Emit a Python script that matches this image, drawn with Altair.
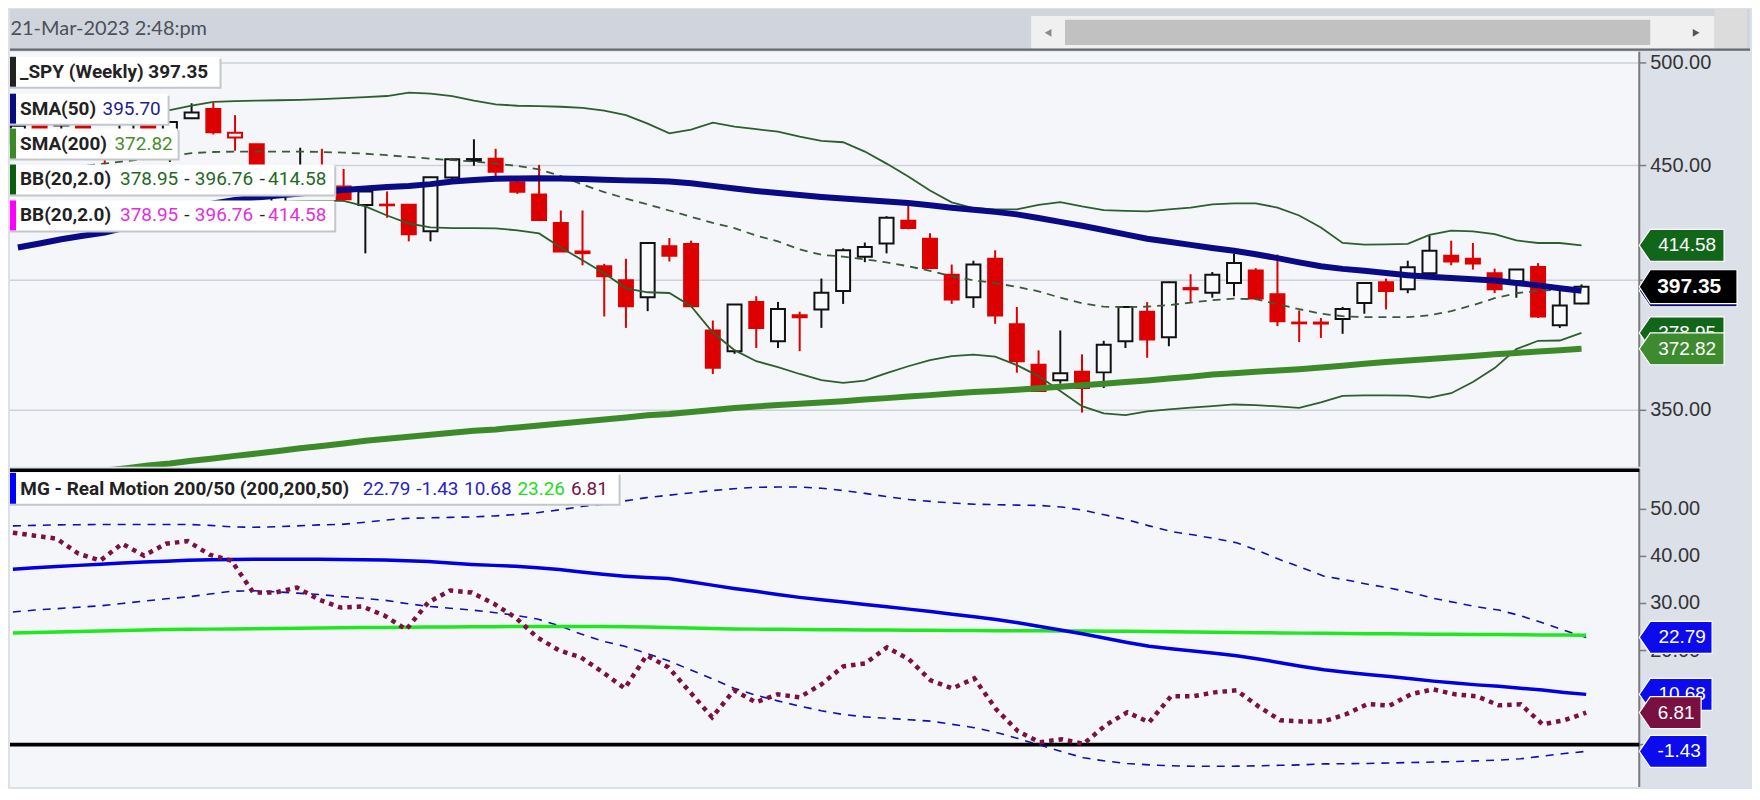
import altair as alt
import pandas as pd

# ---------------- data ----------------
week_dates = pd.date_range("2021-11-03", periods=73, freq="7D").strftime("%Y-%m-%d").tolist()

spy_open = [460.3, 469.7, 469.3, 470.9, 464.1, 456.1, 470.2, 454.5, 472.4, 476.9,
            463.2, 460.0, 432.0, 441.2, 449.5, 440.4, 432.1, 432.0, 432.2, 420.6,
            444.5, 452.2, 453.1, 442.4, 436.8, 424.2, 412.0, 405.8, 400.0, 393.1,
            414.2, 415.2, 379.9, 371.9, 391.2, 375.7, 385.9, 388.2, 395.6, 409.8,
            415.4, 425.2, 417.4, 402.3, 393.1, 408.9, 382.3, 366.8, 361.0, 364.1,
            363.9, 375.7, 387.3, 377.3, 396.8, 394.9, 398.9, 404.0, 394.3, 383.0,
            383.0, 384.4, 390.8, 399.2, 396.3, 402.9, 410.2, 408.9, 402.9, 399.6,
            405.5, 381.9, 390.6]
spy_high = [470.6, 470.2, 470.9, 473.5, 466.6, 470.9, 472.9, 470.9, 479.7, 480.0,
            473.9, 460.0, 444.0, 458.3, 457.8, 448.4, 438.3, 438.2, 432.4, 444.8,
            453.0, 462.3, 457.8, 445.0, 450.3, 429.7, 429.7, 406.8, 408.9, 415.6,
            417.7, 416.6, 383.8, 390.2, 393.5, 391.2, 387.3, 400.7, 413.3, 415.8,
            427.2, 431.9, 419.8, 406.5, 408.1, 412.5, 389.2, 372.2, 379.9, 370.7,
            375.9, 389.5, 391.1, 399.4, 402.5, 403.4, 411.0, 405.0, 410.7, 387.8,
            384.8, 389.2, 399.2, 400.7, 408.1, 418.8, 416.6, 415.6, 404.8, 404.6,
            407.1, 395.9, 398.3]
spy_low = [458.2, 462.0, 465.0, 457.8, 448.9, 453.6, 458.1, 451.7, 472.0, 464.6,
           456.9, 437.9, 420.8, 439.8, 439.9, 433.7, 411.2, 426.5, 416.3, 416.3,
           443.5, 449.9, 445.0, 437.1, 425.5, 412.0, 406.2, 385.4, 380.9, 387.5,
           407.8, 389.5, 363.3, 370.9, 373.1, 373.1, 371.9, 380.9, 390.4, 407.5,
           411.2, 421.5, 405.1, 390.4, 388.8, 382.5, 363.8, 357.0, 359.7, 349.2,
           358.1, 373.1, 369.4, 373.8, 391.2, 392.9, 393.5, 392.6, 381.6, 375.4,
           377.0, 378.6, 386.5, 388.2, 394.7, 402.5, 406.2, 404.4, 394.8, 392.9,
           384.8, 380.9, 390.3]
spy_close = [468.8, 467.3, 468.9, 459.0, 453.4, 470.7, 459.9, 470.6, 475.2, 465.6,
             465.4, 438.0, 442.0, 448.7, 440.5, 434.7, 438.2, 432.3, 419.4, 444.6,
             452.9, 453.0, 447.1, 438.0, 425.5, 412.0, 411.3, 401.6, 389.5, 415.6,
             410.2, 389.5, 365.6, 390.2, 380.9, 388.4, 385.1, 394.9, 412.5, 413.9,
             426.5, 422.1, 405.1, 392.2, 406.5, 385.8, 368.1, 357.0, 363.6, 358.1,
             374.4, 389.2, 376.4, 399.2, 396.3, 402.3, 407.1, 392.6, 383.5, 382.7,
             382.6, 388.4, 398.9, 395.6, 405.4, 412.3, 407.8, 406.9, 396.3, 404.4,
             385.4, 389.8, 397.35]
sma50 = [413.7, 415.4, 417.2, 418.7, 420.1, 422.3, 425.3, 428.0, 430.4, 432.8,
         434.4, 435.5, 436.4, 437.3, 438.2, 438.8, 439.5, 440.2, 440.6, 441.5,
         442.7, 443.4, 443.9, 444.1, 444.2, 444.0, 443.8, 443.5, 443.2, 443.0,
         442.7, 441.9, 440.7, 439.5, 438.4, 437.5, 436.6, 435.7, 435.0, 434.4,
         433.7, 433.0, 432.0, 430.9, 430.0, 429.1, 428.0, 426.4, 424.7, 423.0,
         421.2, 419.3, 417.4, 416.1, 414.8, 413.5, 412.3, 410.8, 409.2, 407.4,
         405.8, 404.7, 403.9, 403.0, 402.1, 401.4, 400.9, 400.4, 399.9, 398.9,
         397.9, 396.7, 395.7]
sma200 = [325.5, 326.4, 327.2, 328.1, 329.0, 329.8, 330.7, 331.4, 332.3, 333.1,
          334.0, 334.8, 335.7, 336.6, 337.4, 338.3, 339.2, 339.9, 340.6, 341.3,
          342.0, 342.7, 343.2, 343.9, 344.6, 345.3, 346.0, 346.7, 347.4, 348.2,
          348.7, 349.4, 350.1, 350.8, 351.4, 351.9, 352.4, 352.8, 353.3, 353.9,
          354.4, 355.0, 355.5, 356.1, 356.6, 357.0, 357.5, 358.0, 358.6, 359.1,
          359.7, 360.3, 360.9, 361.6, 362.3, 363.1, 363.6, 364.1, 364.6, 365.1,
          365.7, 366.4, 367.1, 367.8, 368.4, 368.9, 369.5, 370.1, 370.7, 371.2,
          371.8, 372.3, 372.82]
bb_upper = [469.6, 470.9, 471.6, 472.1, 472.8, 473.7, 474.9, 476.3, 478.6, 480.4,
            480.8, 481.0, 481.2, 481.4, 481.8, 482.3, 482.8, 483.3, 485.0, 484.5,
            483.3, 481.0, 479.2, 478.5, 478.3, 478.0, 477.5, 476.1, 473.9, 469.8,
            465.1, 466.9, 470.3, 468.3, 467.1, 466.0, 463.6, 461.5, 460.9, 456.5,
            450.9, 445.0, 438.6, 433.3, 430.8, 430.2, 430.2, 432.2, 433.4, 431.5,
            429.9, 429.5, 429.3, 430.2, 431.0, 432.4, 432.9, 432.9, 431.0, 427.5,
            422.3, 415.6, 414.9, 415.0, 415.2, 419.1, 420.9, 420.6, 419.4, 416.7,
            415.6, 415.6, 414.58]
bb_middle = [446.3, 447.7, 448.8, 449.8, 450.9, 452.1, 453.2, 454.4, 455.8, 456.3,
             456.5, 456.5, 456.5, 456.5, 456.3, 456.0, 455.5, 454.8, 454.0, 453.2,
             452.5, 451.85, 450.9, 449.8, 448.2, 445.2, 441.3, 437.9, 435.0, 432.4,
             429.7, 426.9, 424.3, 422.0, 418.8, 416.3, 412.9, 410.6, 409.8, 408.7,
             407.4, 405.8, 403.9, 401.6, 400.0, 398.8, 397.3, 395.5, 392.9, 390.7,
             389.3, 389.1, 389.3, 389.9, 390.9, 391.9, 392.5, 392.3, 390.3, 388.3,
             386.5, 385.5, 385.1, 385.1, 385.1, 385.9, 387.5, 389.9, 392.7, 394.7,
             395.7, 396.1, 396.76]
bb_lower = [423.0, 424.5, 426.0, 427.5, 429.0, 430.5, 431.5, 432.5, 433.0, 433.0,
            433.0, 433.2, 433.5, 433.8, 434.0, 434.0, 431.5, 427.5, 424.0, 422.3,
            422.0, 422.0, 421.9, 421.0, 419.7, 413.7, 408.3, 402.9, 396.7, 395.1,
            394.8, 389.5, 379.1, 372.3, 368.1, 365.9, 363.3, 361.0, 360.0, 360.8,
            363.6, 366.2, 368.5, 370.0, 370.6, 369.8, 366.6, 362.5, 357.0, 351.5,
            348.9, 348.3, 349.6, 350.3, 351.0, 351.5, 352.1, 351.9, 351.4, 350.9,
            352.9, 355.2, 355.4, 355.4, 355.3, 354.6, 356.2, 360.3, 365.5, 372.7,
            375.9, 376.0, 378.95]
rm_upper = [46.5, 46.6, 46.7, 46.75, 46.8, 46.8, 46.8, 46.8, 46.8, 46.6,
            46.3, 46.2, 46.3, 46.5, 46.7, 46.8, 47.2, 47.7, 48.1, 48.2,
            48.3, 48.4, 48.6, 48.9, 49.3, 49.9, 50.6, 51.1, 51.8, 52.5,
            53.0, 53.5, 54.0, 54.4, 54.7, 54.75, 54.75, 54.5, 54.0, 53.4,
            52.7, 52.1, 51.7, 51.35, 51.1, 51.0, 50.9, 50.85, 50.5, 49.8,
            48.8, 47.8, 46.5, 45.3, 44.6, 43.8, 42.9, 41.2, 39.3, 37.6,
            35.8, 35.0, 34.1, 33.3, 32.3, 31.1, 30.2, 29.3, 28.6, 27.4,
            25.9, 24.3, 22.79]
rm_lower = [28.2, 28.6, 28.9, 29.2, 29.5, 30.0, 30.5, 31.0, 31.4, 32.0,
            32.6, 32.7, 32.5, 32.2, 31.9, 31.5, 31.1, 30.7, 30.0, 29.4,
            29.0, 28.6, 28.1, 27.5, 26.7, 25.3, 23.5, 22.0, 20.9, 19.4,
            17.84, 15.9, 14.0, 12.0, 10.5, 9.3, 8.2, 7.2, 6.4, 5.9,
            5.6, 5.3, 5.0, 4.3, 3.6, 2.6, 1.3, -0.1, -1.5, -2.8,
            -3.5, -4.0, -4.3, -4.5, -4.6, -4.6, -4.58, -4.5, -4.4, -4.3,
            -4.1, -4.05, -4.0, -3.9, -3.8, -3.7, -3.6, -3.45, -3.3, -3.0,
            -2.45, -1.9, -1.43]
rm_fast = [37.3, 37.6, 37.85, 38.1, 38.35, 38.6, 38.8, 39.0, 39.2, 39.3,
           39.35, 39.4, 39.4, 39.4, 39.4, 39.35, 39.3, 39.25, 39.1, 38.9,
           38.6, 38.3, 38.1, 37.9, 37.6, 37.2, 36.7, 36.2, 35.8, 35.5,
           35.3, 34.6, 33.9, 33.2, 32.6, 31.9, 31.3, 30.8, 30.3, 29.8,
           29.3, 28.8, 28.3, 27.7, 27.2, 26.6, 25.9, 25.1, 24.3, 23.5,
           22.6, 21.7, 20.9, 20.4, 19.9, 19.4, 18.9, 18.2, 17.4, 16.6,
           15.9, 15.4, 14.9, 14.5, 14.0, 13.5, 13.1, 12.7, 12.4, 12.0,
           11.6, 11.1, 10.68]
rm_slow = [23.75, 23.85, 23.95, 24.05, 24.15, 24.25, 24.35, 24.45, 24.5, 24.55,
           24.6, 24.65, 24.7, 24.75, 24.8, 24.85, 24.9, 24.9, 24.95, 25.0,
           25.0, 25.05, 25.05, 25.1, 25.1, 25.1, 25.1, 25.1, 25.05, 25.0,
           24.9, 24.8, 24.7, 24.6, 24.55, 24.5, 24.45, 24.4, 24.4, 24.35,
           24.35, 24.3, 24.3, 24.25, 24.25, 24.2, 24.2, 24.2, 24.15, 24.15,
           24.1, 24.1, 24.05, 24.0, 23.95, 23.9, 23.85, 23.8, 23.75, 23.7,
           23.65, 23.6, 23.55, 23.55, 23.5, 23.45, 23.45, 23.4, 23.4, 23.35,
           23.3, 23.3, 23.26]
rm_motion = [45.05, 44.41, 43.78, 40.59, 39.11, 42.71, 40.17, 42.71, 43.25, 40.38,
             39.11, 32.32, 32.32, 33.38, 30.84, 29.14, 29.35, 27.44, 24.47, 30.2,
             32.75, 32.32, 29.99, 27.02, 22.78, 20.02, 18.54, 15.36, 11.96, 18.96,
             16.42, 11.11, 5.81, 11.54, 8.99, 10.69, 10.05, 12.81, 16.63, 17.26,
             20.66, 18.18, 13.66, 11.96, 14.08, 7.51, 2.84, 0.51, 1.15, 0.15,
             4.11, 6.87, 4.75, 10.27, 10.27, 11.11, 11.54, 8.14, 5.17, 4.9,
             4.96, 6.45, 8.63, 8.29, 10.75, 11.75, 10.69, 10.27, 8.36, 8.57,
             4.33, 5.17, 6.81]

# axis ticks; labels that the value tags hide in the reference are not written
price_ticks = [350, 400, 450, 500]
price_labels = [350, 450, 500]
rm_ticks = [0, 10, 20, 30, 40, 50]
rm_labels = [20, 30, 40, 50]

# candle style: hollow when close >= open, red when close < previous close
prev_close = [None] + spy_close[:-1]
kind = []
for o, c, p in zip(spy_open, spy_close, prev_close):
    ref = o if p is None else p
    if c >= o:
        kind.append("up" if c >= ref else "up_lower")
    else:
        kind.append("down_higher" if c >= ref else "down")

df = pd.DataFrame(dict(date=week_dates, open=spy_open, high=spy_high, low=spy_low,
                       close=spy_close, kind=kind, sma50=sma50, sma200=sma200,
                       bbu=bb_upper, bbm=bb_middle, bbl=bb_lower, rmu=rm_upper,
                       rml=rm_lower, rmf=rm_fast, rms=rm_slow, rmm=rm_motion))

# ---------------- layout ----------------
PW, TOP_H, BOT_H, HEAD_W, HEAD_H = 1633, 416, 319, 1744, 42
AXIS_FONT = "Liberation Sans"
GRID = "#cdd1d8"
AXIS_GRAY = "#7a7a7a"


def dt(y, m, d, h=0, mi=0):
    return alt.DateTime(year=y, month=m, date=d, hours=h, minutes=mi, utc=True)


x_scale = alt.Scale(type="utc", domain=[dt(2021, 11, 2, 1, 40), dt(2023, 4, 8, 0, 15)])
quarters = [dt(2022, 1, 1), dt(2022, 4, 1), dt(2022, 7, 1), dt(2022, 10, 1),
            dt(2023, 1, 1), dt(2023, 4, 1)]
price_scale = alt.Scale(type="log", domain=[330.26, 505.75], nice=False)
rm_scale = alt.Scale(domain=[-9.03, 58.62], nice=False, zero=False)

x_plain = alt.X("date:T", scale=x_scale, axis=None)
x_top = alt.X("date:T", scale=x_scale,
              axis=alt.Axis(values=quarters, grid=True, gridColor=GRID, gridWidth=1.5,
                            labels=False, ticks=False, domain=False, title=None))
x_bot = alt.X("date:T", scale=x_scale,
              axis=alt.Axis(values=quarters, grid=True, gridColor=GRID, gridWidth=1.5,
                            labels=False, ticks=True, tickSize=8, tickWidth=2,
                            tickColor=AXIS_GRAY, domain=True, domainColor=AXIS_GRAY,
                            domainWidth=2, title=None))

base = alt.Chart(df)
dummy = pd.DataFrame({"k": [0]})


def value_axis(ticks, labels, scale, height, grid):
    """Right-hand value axis drawn with the panel's own y scale."""
    t = pd.DataFrame({"v": ticks})
    lab = pd.DataFrame({"v": labels})
    y = alt.Y("v:Q", scale=scale, axis=None)
    out = []
    if grid:
        out.append(alt.Chart(t).mark_rule(color=GRID, strokeWidth=1.5).encode(
            y=y, x=alt.value(0), x2=alt.value(PW)))
    out.append(alt.Chart(t).mark_rule(color=AXIS_GRAY, strokeWidth=1.5).encode(
        y=y, x=alt.value(PW), x2=alt.value(PW + 7)))
    out.append(alt.Chart(lab).mark_text(font=AXIS_FONT, fontSize=20, color="#333333",
                                        align="left", baseline="middle").encode(
        y=y, x=alt.value(PW + 11), text=alt.Text("v:Q", format=".2f")))
    out.append(alt.Chart(dummy).mark_rule(color=AXIS_GRAY, strokeWidth=2).encode(
        x=alt.value(PW), y=alt.value(0), y2=alt.value(height)))
    return out


def line(field, scale, color, width, dash=None, cap="butt"):
    kw = dict(color=color, strokeWidth=width, clip=True, strokeCap=cap)
    if dash:
        kw["strokeDash"] = dash
    return base.mark_line(**kw).encode(x=x_plain, y=alt.Y(f"{field}:Q", scale=scale, axis=None))


def tag(value, label, fill, width, height, text_dx, scale, size=19, bold=False, show_text=True):
    d = pd.DataFrame({"v": [value], "t": [label]})
    hh = height / width
    tp = 2 * 11 / width
    path = (f"M -1 0 L {-1 + tp:.4f} {-hh:.4f} L 1 {-hh:.4f} L 1 {hh:.4f} "
            f"L {-1 + tp:.4f} {hh:.4f} Z")
    shp = alt.Chart(d).mark_point(shape=path, filled=True, fill=fill, stroke="#ffffff",
                                  strokeWidth=1.2, opacity=1, size=width * width).encode(
        x=alt.value(PW + width / 2), y=alt.Y("v:Q", scale=scale, axis=None))
    if not show_text:
        return [shp]
    txt = alt.Chart(d).mark_text(font=AXIS_FONT, fontSize=size,
                                 fontWeight="bold" if bold else "normal", color="#ffffff",
                                 align="center", baseline="middle").encode(
        x=alt.value(PW + text_dx), y=alt.Y("v:Q", scale=scale, axis=None), text="t:N")
    return [shp, txt]


def box(x2, y1, y2, strip):
    return [
        alt.Chart(dummy).mark_rect(color="#c2c6cd").encode(
            x=alt.value(0), x2=alt.value(x2 + 2), y=alt.value(y1 + 2), y2=alt.value(y2 + 2)),
        alt.Chart(dummy).mark_rect(color="#ffffff").encode(
            x=alt.value(0), x2=alt.value(x2), y=alt.value(y1), y2=alt.value(y2)),
        alt.Chart(dummy).mark_rect(color=strip).encode(
            x=alt.value(0), x2=alt.value(6), y=alt.value(y1), y2=alt.value(y2)),
    ]


def label(text, x, y, color, bold=False, size=19):
    return alt.Chart(dummy).mark_text(text=text, font="Roboto", fontSize=size,
                                      fontWeight="bold" if bold else "normal", color=color,
                                      align="left", baseline="middle").encode(
        x=alt.value(x), y=alt.value(y))


# ---------------- price panel ----------------
kind_dom = ["up", "up_lower", "down", "down_higher"]
stroke_sc = alt.Scale(domain=kind_dom, range=["#111111", "#dd0000", "#dd0000", "#111111"])
fill_sc = alt.Scale(domain=kind_dom, range=["#f9fafc", "#f9fafc", "#dd0000", "#111111"])

wicks = base.mark_rule(strokeWidth=2).encode(
    x=x_top,
    y=alt.Y("low:Q", scale=price_scale, axis=None),
    y2="high:Q",
    stroke=alt.Stroke("kind:N", scale=stroke_sc, legend=None))
bodies = base.mark_bar(size=14, strokeWidth=2).encode(
    x=x_plain,
    y=alt.Y("open:Q", scale=price_scale, axis=None), y2="close:Q",
    fill=alt.Fill("kind:N", scale=fill_sc, legend=None),
    stroke=alt.Stroke("kind:N", scale=stroke_sc, legend=None))

DARK = "#222222"
top_layers = value_axis(price_ticks, price_labels, price_scale, TOP_H, True)
top_layers += [
    wicks, bodies,
    line("bbm", price_scale, "#3b5a3b", 1.8, dash=[8, 6]),
    line("bbu", price_scale, "#2e5e2e", 1.8),
    line("bbl", price_scale, "#2e5e2e", 1.8),
    line("sma200", price_scale, "#3c8a2a", 6),
    line("sma50", price_scale, "#0a0a86", 6),
]
top_layers += box(210, 5, 35, "#222222")
top_layers += box(158, 42, 72, "#0b0b80")
top_layers += box(168, 77, 107, "#3a8a2a")
top_layers += box(325, 113, 143, "#0b5e0b")
top_layers += box(325, 149, 179, "#ff00ff")
top_layers += [
    label("_SPY (Weekly) 397.35", 10, 20, DARK, bold=True),
    label("SMA(50)", 10, 57, DARK, bold=True), label("395.70", 92.7, 57, "#1d1d8f"),
    label("SMA(200)", 10, 92, DARK, bold=True), label("372.82", 104.7, 92, "#4a8c2c"),
    label("BB(20,2.0)", 10, 128, DARK, bold=True),
    label("378.95", 110.3, 128, "#1e6a1e"), label("-", 174.7, 128, DARK),
    label("396.76", 185.3, 128, "#1e6a1e"), label("-", 250.3, 128, DARK),
    label("414.58", 258.7, 128, "#1e6a1e"),
    label("BB(20,2.0)", 10, 164, DARK, bold=True),
    label("378.95", 110.3, 164, "#e030e0"), label("-", 174.7, 164, DARK),
    label("396.76", 185.3, 164, "#e030e0"), label("-", 250.3, 164, DARK),
    label("414.58", 258.7, 164, "#e030e0"),
]
top_layers += tag(414.58, "414.58", "#11661a", 85, 32, 48, price_scale)
top_layers += tag(378.95, "378.95", "#11661a", 85, 32, 48, price_scale)
top_layers += tag(372.82, "372.82", "#3e8a2e", 85, 32, 48, price_scale)
top_layers += tag(395.70, "395.70", "#0b0b80", 98, 32, 50, price_scale, show_text=False)
top_layers += tag(397.35, "397.35", "#000000", 98, 34, 50, price_scale, size=21, bold=True)

top = alt.layer(*top_layers).properties(width=PW, height=TOP_H)

# ---------------- Real Motion panel ----------------
zero_rule = alt.Chart(pd.DataFrame({"z": [0]})).mark_rule(color="#000000", strokeWidth=4).encode(
    y=alt.Y("z:Q", scale=rm_scale, axis=None), x=alt.value(0), x2=alt.value(PW))
top_rule = alt.Chart(dummy).mark_rule(color="#000000", strokeWidth=3.6).encode(
    x=alt.value(0), x2=alt.value(PW), y=alt.value(1.4))
rm_up_line = base.mark_line(color="#1010b0", strokeWidth=1.6, strokeDash=[8, 7], clip=True).encode(
    x=x_bot, y=alt.Y("rmu:Q", scale=rm_scale, axis=None))

bot_layers = value_axis(rm_ticks, rm_labels, rm_scale, BOT_H, False)
bot_layers += [
    zero_rule, top_rule, rm_up_line,
    line("rml", rm_scale, "#1010b0", 1.6, dash=[8, 7]),
    line("rms", rm_scale, "#1ee81e", 3.5),
    line("rmf", rm_scale, "#0000e0", 3.5),
    line("rmm", rm_scale, "#7b1042", 4.5, dash=[4.5, 5]),
]
bot_layers += box(610, 4, 35, "#0000ff")
bot_layers += [
    label("MG - Real Motion 200/50 (200,200,50)", 10.4, 20.5, DARK, bold=True),
    label("22.79", 353.6, 20.5, "#2525c8"), label("-1.43", 407.2, 20.5, "#2525c8"),
    label("10.68", 455.1, 20.5, "#2525c8"), label("23.26", 508.6, 20.5, "#22dd22"),
    label("6.81", 562.2, 20.5, "#7a1040"),
]
bot_layers += tag(22.79, "22.79", "#0b0bee", 73, 32, 43, rm_scale)
bot_layers += tag(10.68, "10.68", "#0b0bee", 73, 32, 43, rm_scale)
bot_layers += tag(6.81, "6.81", "#7a1042", 62, 32, 37, rm_scale)
bot_layers += tag(-1.43, "-1.43", "#0b0bee", 68, 32, 40, rm_scale)

bottom = alt.layer(*bot_layers).properties(width=PW, height=BOT_H)

# ---------------- header strip ----------------
header = alt.layer(
    alt.Chart(dummy).mark_text(text="21-Mar-2023 2:48:pm", font="Lato", fontSize=20,
                               color="#4b5059", align="left", baseline="middle").encode(
        x=alt.value(0.5), y=alt.value(20.5)),
    alt.Chart(dummy).mark_rect(color="#f0f0f0").encode(
        x=alt.value(1023.5), x2=alt.value(1708.5), y=alt.value(7), y2=alt.value(40)),
    alt.Chart(dummy).mark_rect(color="#c1c1c1").encode(
        x=alt.value(1057.4), x2=alt.value(1644), y=alt.value(11), y2=alt.value(36.3)),
    alt.Chart(dummy).mark_rect(color="#dcdcdc").encode(
        x=alt.value(1708.5), x2=alt.value(1741), y=alt.value(0), y2=alt.value(40)),
    alt.Chart(dummy).mark_point(shape="triangle-left", filled=True, color="#8a8a8a",
                                size=60, opacity=1).encode(x=alt.value(1040.5), y=alt.value(24)),
    alt.Chart(dummy).mark_point(shape="triangle-right", filled=True, color="#555555",
                                size=60, opacity=1).encode(x=alt.value(1690), y=alt.value(24)),
    alt.Chart(dummy).mark_rule(color="#666a70", strokeWidth=2.4).encode(
        x=alt.value(0), x2=alt.value(HEAD_W), y=alt.value(40.8)),
).properties(width=HEAD_W, height=HEAD_H,
             view=alt.ViewBackground(fill="#cfd4dd", stroke=None))

chart = alt.vconcat(header, top, bottom, spacing=0).properties(
    padding=0, background="#dce1e9"
).configure_view(stroke=None, fill="#f4f6f9")

chart.save("out.html", embed_options={"renderer": "svg", "actions": False})
